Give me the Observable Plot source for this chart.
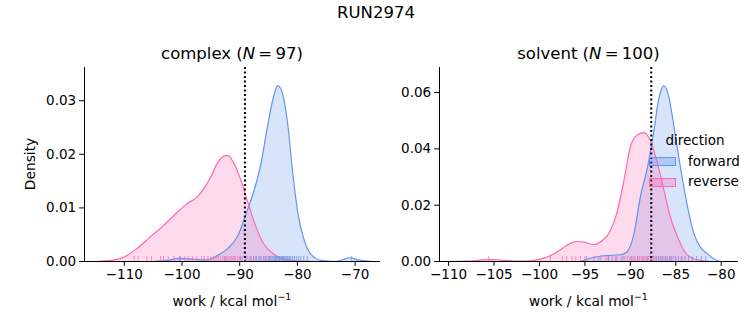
<!DOCTYPE html>
<html><head><meta charset="utf-8">
<script src="https://cdn.jsdelivr.net/npm/d3@7"></script>
<script src="https://cdn.jsdelivr.net/npm/@observablehq/plot@0.6"></script>
<style>
body{margin:0;width:753px;height:325px;position:relative;background:#fff;font-family:"DejaVu Sans",sans-serif;color:#000;overflow:hidden}
.t{position:absolute;white-space:nowrap;transform:translate(-50%,-50%);line-height:1}
.plot{position:absolute;top:0}
.lg{position:absolute;width:27px;height:9px;box-sizing:border-box;border:1px solid}
</style></head><body>
<script>
// ---------- data ----------
const suptitle = "RUN2974";
const directions = ["forward", "reverse"];
const colors = ["#6495ED", "#FF69B4"];

// complex: KDE curves (x, density)
const complexForwardX = [-105, -102.6, -100.3, -97.9, -95.6, -93.9, -92.1, -90.4, -88.7, -87.5, -86.3, -85.2, -84.3, -83.4, -82.6, -81.7, -80.8, -79.9, -78.8, -77.7, -75.9, -73.6, -71.9, -71.0, -69.5, -67.2];
const complexForwardY = [0, 0.0002, 0.0006, 0.0004, 0.0003, 0.0011, 0.0024, 0.0046, 0.0095, 0.0133, 0.0183, 0.0251, 0.0300, 0.0328, 0.0314, 0.0258, 0.0164, 0.0089, 0.0039, 0.0014, 0.0002, 0.0000, 0.0004, 0.0007, 0.0003, 0];
const complexReverseX = [-114.8, -112.4, -110.1, -107.8, -105.5, -103.2, -100.8, -99.1, -97.4, -96.2, -95.0, -93.9, -93.0, -92.1, -91.0, -89.8, -88.7, -87.5, -86.3, -85.2, -83.4, -81.7, -79.4, -77.1];
const complexReverseY = [0, 0.0002, 0.0008, 0.0024, 0.0046, 0.0067, 0.0092, 0.0108, 0.0120, 0.0136, 0.0158, 0.0183, 0.0195, 0.0198, 0.0183, 0.0152, 0.0114, 0.0074, 0.0042, 0.0024, 0.0009, 0.0003, 0.0001, 0];
// complex: rug samples
const complexForwardRug = [-100.4, -92.5, -91.0, -89.8, -88.9, -88.2, -87.6, -87.1, -86.7, -86.3, -85.9, -85.6, -85.3, -85.0, -84.8, -84.6, -84.4, -84.2, -84.0, -83.8, -83.6, -83.5, -83.3, -83.1, -83.0, -82.8, -82.6, -82.4, -82.3, -82.1, -81.9, -81.7, -81.5, -81.3, -81.1, -80.8, -80.5, -80.2, -79.8, -79.4, -78.9, -78.3, -70.6];
const complexReverseRug = [-108.3, -107.6, -106.1, -105.3, -103.7, -103.2, -102.4, -101.4, -100.3, -99.5, -98.9, -98.2, -97.4, -96.6, -96.1, -95.5, -95.0, -94.5, -94.1, -93.7, -93.3, -92.9, -92.6, -92.3, -92.0, -91.7, -91.4, -91.1, -90.8, -90.4, -90.0, -89.6, -89.1, -88.6, -88.0, -87.3, -86.5, -85.6, -84.8];
const complexMarker = -89.1;

// solvent: KDE curves
const solventForwardX = [-95.5, -94.0, -92.6, -91.1, -90.4, -89.6, -88.9, -88.1, -87.4, -86.9, -86.3, -85.8, -85.2, -84.5, -83.7, -83.0, -82.3, -81.5, -80.8, -80.1];
const solventForwardY = [0, 0.0015, 0.0021, 0.0024, 0.0033, 0.0098, 0.0229, 0.0336, 0.0466, 0.0573, 0.0624, 0.0590, 0.0478, 0.0336, 0.0193, 0.0098, 0.0051, 0.0027, 0.0009, 0];
const solventReverseX = [-110.9, -108.0, -106.5, -105.4, -103.9, -102.1, -100.6, -99.2, -98.1, -97.0, -95.9, -95.1, -94.0, -93.3, -92.2, -91.5, -90.7, -90.0, -89.3, -88.5, -87.8, -87.0, -86.3, -85.6, -84.8, -84.1, -83.4, -82.3, -81.2];
const solventReverseY = [0, 0.0001, 0.0005, 0.0007, 0.0004, 0.0001, 0.0004, 0.0015, 0.0033, 0.0057, 0.0071, 0.0069, 0.0060, 0.0069, 0.0110, 0.0170, 0.0288, 0.0407, 0.0448, 0.0458, 0.0430, 0.0347, 0.0253, 0.0158, 0.0087, 0.0039, 0.0015, 0.0004, 0];
// solvent: rug samples
const solventForwardRug = [-94.8, -93.5, -92.4, -91.6, -90.8, -89.9, -89.2, -88.6, -88.1, -87.7, -87.4, -87.1, -86.9, -86.7, -86.5, -86.3, -86.1, -85.9, -85.7, -85.5, -85.3, -85.0, -84.7, -84.4, -84.0, -83.6, -83.2, -82.7, -82.2, -81.7];
const solventReverseRug = [-105.6, -98.8, -97.5, -97.0, -96.4, -96.0, -95.5, -95.0, -94.0, -93.3, -92.6, -92.0, -91.5, -91.0, -90.6, -90.3, -90.0, -89.7, -89.5, -89.2, -89.0, -88.8, -88.6, -88.4, -88.2, -88.0, -87.8, -87.5, -87.2, -86.9, -86.5, -86.1, -85.6, -85.0, -84.3];
const solventMarker = -87.7;

const complexXTicks = [-110, -100, -90, -80, -70];
const complexYTicks = [0, 0.01, 0.02, 0.03];
const solventXTicks = [-110, -105, -100, -95, -90, -85, -80];
const solventYTicks = [0, 0.02, 0.04, 0.06];

// ---------- drawing ----------
const pts = (xs, ys) => xs.map((x, i) => ({x, y: ys[i]}));

function panel({fwd, rev, fRug, rRug, marker, xDomain, yDomain, xTicks, yTicks, width, ml, mr}) {
  const frameH = 325 - 67 - 64;
  const series = [fwd, rev];
  const rugs = [fRug, rRug];
  const marks = [];
  series.forEach((s, i) => marks.push(Plot.areaY(s, {x: "x", y: "y", fill: colors[i], fillOpacity: 0.25, curve: "monotone-x"})));
  series.forEach((s, i) => marks.push(Plot.lineY(s, {x: "x", y: "y", stroke: colors[i], strokeWidth: 1.2, curve: "monotone-x"})));
  rugs.forEach((r, i) => marks.push(Plot.ruleX(r, {x: d => d, stroke: colors[i], strokeOpacity: 0.75, strokeWidth: 1, insetTop: frameH - 5})));
  marks.push(Plot.ruleX([marker], {stroke: "#000", strokeWidth: 2, strokeDasharray: "2,2.5"}));
  marks.push(Plot.ruleY([yDomain[0]], {stroke: "#000", strokeWidth: 1}));
  marks.push(Plot.ruleX([xDomain[0]], {stroke: "#000", strokeWidth: 1}));
  return Plot.plot({
    width, height: 325,
    marginTop: 67, marginBottom: 64, marginLeft: ml, marginRight: mr,
    style: {fontFamily: "DejaVu Sans", fontSize: "13.5px", color: "#000", background: "transparent", overflow: "visible"},
    x: {domain: xDomain, ticks: xTicks, tickSize: 4.9, tickPadding: 3.5, label: null, tickFormat: d => d3.format("d")(d).replace("-", "\u2212")},
    y: {domain: yDomain, ticks: yTicks, tickSize: 4.9, tickPadding: 3.5, label: null, tickFormat: ".2f"},
    marks
  });
}

const left = panel({
  fwd: pts(complexForwardX, complexForwardY), rev: pts(complexReverseX, complexReverseY),
  fRug: complexForwardRug, rRug: complexReverseRug, marker: complexMarker,
  xDomain: [-116.9, -65.6], yDomain: [0, 0.0362], xTicks: complexXTicks, yTicks: complexYTicks,
  width: 390, ml: 84, mr: 10
});
left.classList.add("plot"); left.style.left = "0px";
document.body.appendChild(left);

const right = panel({
  fwd: pts(solventForwardX, solventForwardY), rev: pts(solventReverseX, solventReverseY),
  fRug: solventForwardRug, rRug: solventReverseRug, marker: solventMarker,
  xDomain: [-111.0, -78.1], yDomain: [0, 0.0689], xTicks: solventXTicks, yTicks: solventYTicks,
  width: 373, ml: 59, mr: 15
});
right.classList.add("plot"); right.style.left = "380px";
document.body.appendChild(right);

function txt(html, x, y, size, extra) {
  const d = document.createElement("div");
  d.className = "t"; d.innerHTML = html;
  d.style.left = x + "px"; d.style.top = y + "px"; d.style.fontSize = size + "px";
  if (extra) Object.assign(d.style, extra);
  document.body.appendChild(d);
  return d;
}
txt(suptitle, 376, 13, 16.5);
txt("complex (<i>N</i>\u2009=\u200997)", 232, 54, 16.5);
txt("solvent (<i>N</i>\u2009=\u2009100)", 588.5, 54, 16.5);
txt("Density", 31, 164, 13.8, {transform: "translate(-50%,-50%) rotate(-90deg)"});
txt("work / kcal mol<sup style='font-size:9.5px;vertical-align:6px'>\u22121</sup>", 232, 300, 13.8);
txt("work / kcal mol<sup style='font-size:9.5px;vertical-align:6px'>\u22121</sup>", 588.5, 300, 13.8);

// legend
txt("direction", 695, 141, 13.5);
directions.forEach((name, i) => {
  const y = 157 + i * 20.5;
  const p = document.createElement("div");
  p.className = "lg";
  p.style.left = "649px"; p.style.top = y + "px";
  p.style.borderColor = colors[i];
  p.style.background = colors[i] + "55";
  document.body.appendChild(p);
  txt(name, 688, y + 4.5, 13.5, {transform: "translate(0,-50%)"});
});
</script>
</body></html>
